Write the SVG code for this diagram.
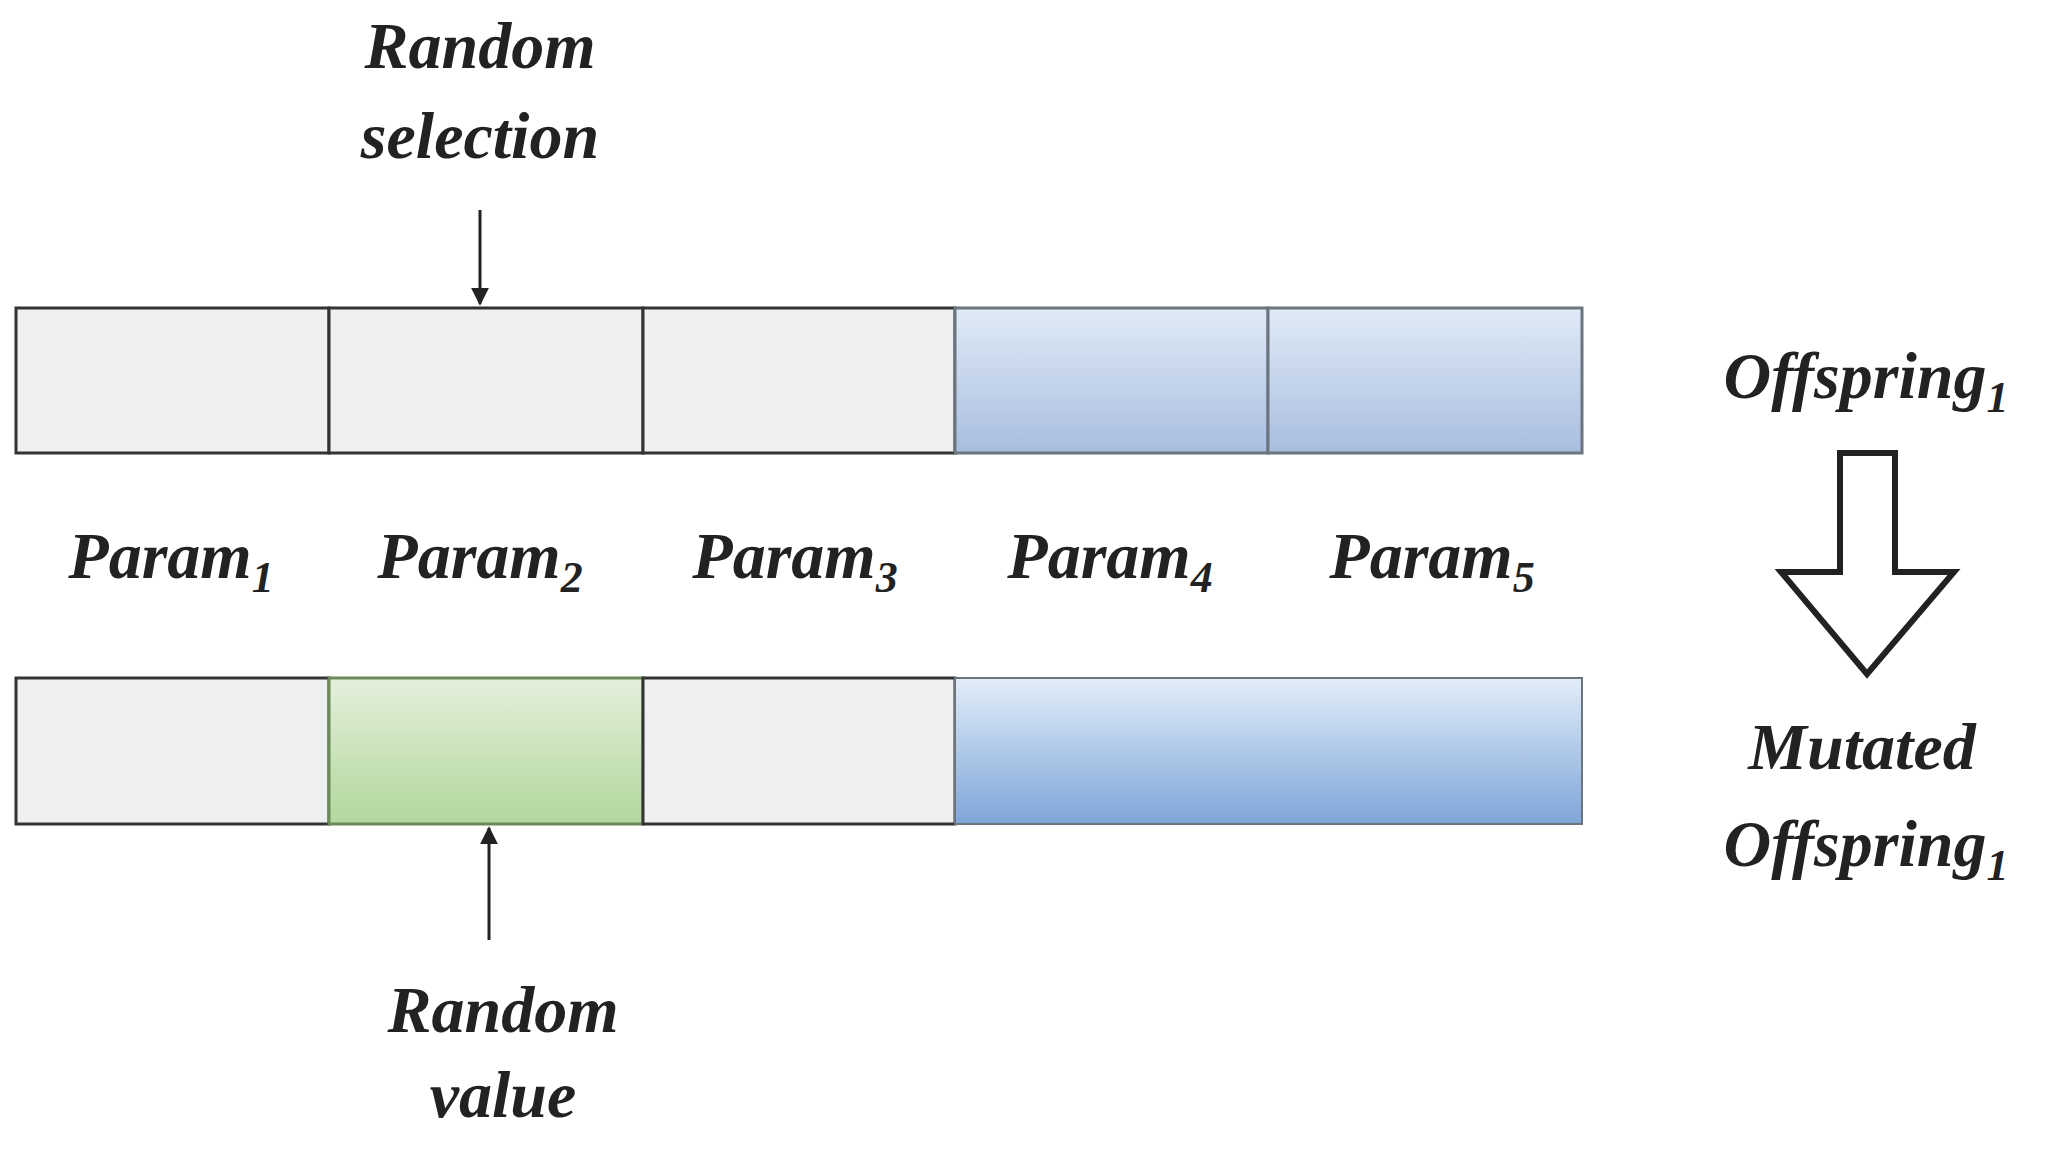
<svg xmlns="http://www.w3.org/2000/svg" width="2050" height="1155" viewBox="0 0 2050 1155">
<style>
.t{font-family:"Liberation Serif","DejaVu Serif",serif;font-weight:bold;font-style:italic;font-size:66px;fill:#222;text-anchor:middle}
.s{font-size:44px}
.g{fill:#eff0f2;stroke:#333;stroke-width:3}
</style>
<defs>
<linearGradient id="b1" x1="0" y1="0" x2="0" y2="1"><stop offset="0" stop-color="#e0ebf7"/><stop offset="1" stop-color="#a8bddf"/></linearGradient>
<linearGradient id="b2" x1="0" y1="0" x2="0" y2="1"><stop offset="0" stop-color="#e2edf9"/><stop offset="1" stop-color="#7ea5d8"/></linearGradient>
<linearGradient id="gr" x1="0" y1="0" x2="0" y2="1"><stop offset="0" stop-color="#e4f0dc"/><stop offset="1" stop-color="#b2d79c"/></linearGradient>
<marker id="ah" viewBox="0 0 10 10" refX="9" refY="5" markerWidth="6" markerHeight="6" orient="auto"><path d="M0,0 L10,5 L0,10 Z" fill="#222"/></marker>
</defs>
<g id="top-row">
<rect class="g" x="16" y="308" width="313" height="145"/>
<rect class="g" x="329" y="308" width="314" height="145"/>
<rect class="g" x="643" y="308" width="312" height="145"/>
<rect x="955" y="308" width="313" height="145" fill="url(#b1)" stroke="#6b7580" stroke-width="3"/>
<rect x="1268" y="308" width="314" height="145" fill="url(#b1)" stroke="#6b7580" stroke-width="3"/>
</g>
<g id="bottom-row">
<rect class="g" x="16" y="678" width="313" height="146"/>
<rect x="329" y="678" width="314" height="146" fill="url(#gr)" stroke="#6a8a5a" stroke-width="3"/>
<rect class="g" x="643" y="678" width="312" height="146"/>
<rect x="955" y="678" width="627" height="146" fill="url(#b2)" stroke="#6b7580" stroke-width="2"/>
</g>
<g id="connectors" stroke="#222" stroke-width="3" fill="none">
<line x1="480" y1="210" x2="480" y2="304" marker-end="url(#ah)"/>
<line x1="489" y1="940" x2="489" y2="828" marker-end="url(#ah)"/>
<path d="M1840,453 H1895 V572 H1954 L1867,674 L1781,572 H1840 Z" fill="#fff" stroke-width="6"/>
</g>
<g id="labels">
<text class="t" x="480" y="68">Random</text>
<text class="t" x="480" y="158">selection</text>
<text class="t" x="171" y="578">Param<tspan class="s" dy="14">1</tspan></text>
<text class="t" x="480" y="578">Param<tspan class="s" dy="14">2</tspan></text>
<text class="t" x="795" y="578">Param<tspan class="s" dy="14">3</tspan></text>
<text class="t" x="1110" y="578">Param<tspan class="s" dy="14">4</tspan></text>
<text class="t" x="1432" y="578">Param<tspan class="s" dy="14">5</tspan></text>
<text class="t" x="1866" y="398">Offspring<tspan class="s" dy="14">1</tspan></text>
<text class="t" x="1862" y="769">Mutated</text>
<text class="t" x="1866" y="866">Offspring<tspan class="s" dy="14">1</tspan></text>
<text class="t" x="503" y="1032">Random</text>
<text class="t" x="503" y="1117">value</text>
</g>
</svg>
